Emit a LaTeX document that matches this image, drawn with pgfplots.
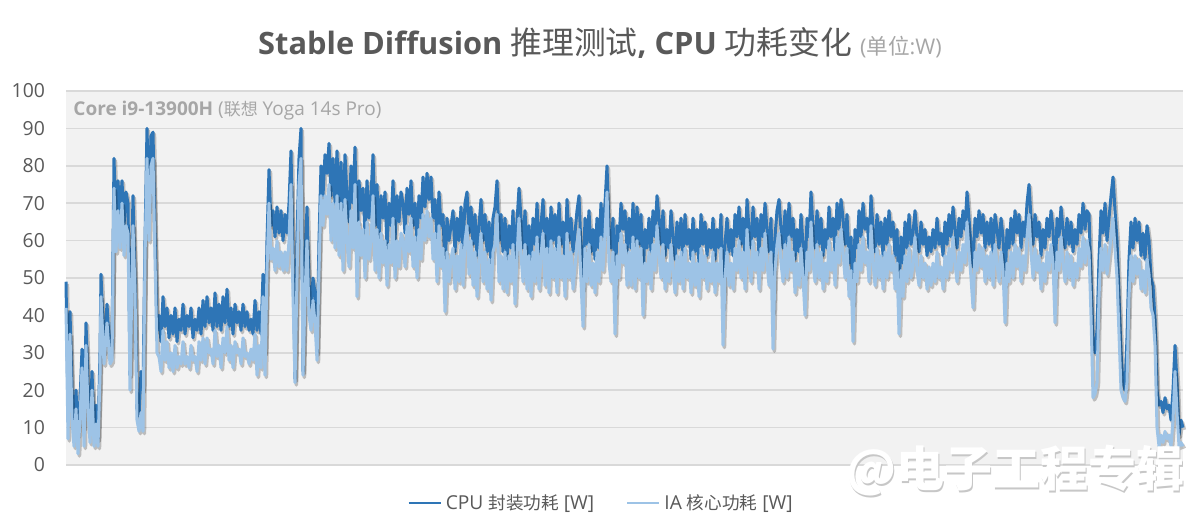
\documentclass[border=0pt]{standalone}
\usepackage{pgfplots}
\pgfplotsset{compat=1.18}
\usepackage{pgfplotstable}
\usepackage{fontspec}
\setmainfont{Open Sans}
\newfontfamily\cjk{Noto Sans CJK SC}
\definecolor{cpuc}{RGB}{46,117,182}
\definecolor{iac}{RGB}{157,195,230}
\definecolor{txt}{RGB}{89,89,89}
\definecolor{ltxt}{RGB}{166,166,166}
\definecolor{gridc}{RGB}{217,217,217}
\definecolor{bgc}{RGB}{242,242,242}
\pgfplotstableread{
x cpu ia
0 49 42
2 15 7
4 41 35
6 20 12
8 10 5
10 20 15
12 8 3
14 17 12
16 31 26
18 10 5
20 38 32
22 22 15
24 10 6
26 25 20
28 9 5
30 16 11
32 7 5
34 30 24
35 51 45
38 30 27
41 43 38
44 29 27
46 32 28
48 82 74
50 64 57
52 76 68
54 66 58
56 76 70
58 64 56
60 73 64
62 70 62
64 24 20
66 58 50
67 72 64
69 50 46
71 15 12
73 13 9
75 25 14
77 20 9
79 60 55
81 90 82
83 68 60
85 88 80
87 89 82
89 62 55
91 36 30
93 40 29
95 33 25
97 45 36
99 37 28
101 42 33
103 34 26
105 40 30
107 35 25
109 42 32
111 33 26
113 39 29
115 36 27
117 43 33
119 35 27
121 40 29
123 37 26
125 42 32
127 34 28
129 39 29
131 36 25
133 42 33
135 35 28
137 44 34
139 37 27
141 45 34
143 38 30
145 42 31
147 36 27
149 46 36
151 37 29
153 43 32
155 36 26
157 45 34
159 38 30
161 47 37
163 37 28
165 42 32
167 35 26
169 43 33
171 38 30
173 41 31
175 36 27
177 43 34
179 37 29
181 41 30
183 36 27
185 39 31
187 35 28
189 44 35
191 36 24
193 41 32
195 35 26
197 51 45
199 30 24
201 60 52
203 79 70
205 64 55
207 68 58
209 61 52
211 69 60
213 62 53
215 68 57
217 60 52
219 67 57
221 62 52
223 70 60
225 84 75
227 55 45
229 23 22
231 60 50
233 82 75
235 90 82
237 25 24
239 55 45
241 69 60
243 48 40
245 42 36
247 50 44
249 46 38
251 30 28
253 60 52
255 80 72
257 72 64
259 83 72
261 78 67
263 86 75
265 72 60
267 82 70
269 70 58
271 84 72
273 68 56
275 81 70
277 64 52
279 83 71
281 72 60
283 65 53
285 80 68
287 70 58
289 85 75
291 55 45
293 76 65
295 68 56
297 74 63
299 62 50
301 76 65
303 66 55
305 72 60
307 83 72
309 64 52
311 75 63
313 60 50
315 72 62
317 66 54
319 73 60
321 58 48
323 70 59
325 64 54
327 76 66
329 60 50
331 72 60
333 65 53
335 73 62
337 70 60
339 62 53
341 74 64
343 67 57
345 76 66
347 64 53
349 70 61
351 60 50
353 72 63
355 66 55
357 77 67
359 69 60
361 78 68
363 71 61
365 77 66
367 66 55
369 71 62
371 60 49
373 73 64
375 64 53
377 67 58
379 52 41
381 66 57
383 60 49
385 64 55
387 68 58
389 57 47
391 66 56
393 60 49
395 69 59
397 58 48
399 70 60
401 73 64
403 62 51
405 69 60
407 59 48
409 67 57
411 56 45
413 64 55
415 71 62
417 60 49
419 67 57
421 57 47
423 65 55
425 54 44
427 66 57
429 69 59
431 76 67
433 60 49
435 67 56
437 57 47
439 66 57
441 55 46
443 64 56
445 58 49
447 68 59
449 53 43
451 65 56
453 74 66
455 66 56
457 58 49
459 68 59
461 56 47
463 64 56
465 54 45
467 66 57
469 59 49
471 70 61
473 57 47
475 64 56
477 71 62
479 58 48
481 66 58
483 55 46
485 69 60
487 60 50
489 67 58
491 56 46
493 70 61
495 59 50
497 65 56
499 55 45
501 71 62
503 60 50
505 66 57
507 57 47
509 62 53
511 68 59
513 72 63
515 58 49
517 47 37
519 66 58
521 59 49
523 68 59
525 57 48
527 63 54
529 55 46
531 66 57
533 58 49
535 70 61
537 61 52
539 70 62
541 80 73
543 63 54
545 58 49
547 66 57
549 45 35
551 64 56
553 60 50
555 70 62
557 63 54
559 68 59
561 57 48
563 66 57
565 58 48
567 70 61
569 56 47
571 69 60
573 59 50
575 67 58
577 49 40
579 63 54
581 58 49
583 66 57
585 57 47
587 68 59
589 61 52
591 72 64
593 66 56
595 59 50
597 68 59
599 56 47
601 63 54
603 58 49
605 68 59
607 61 52
609 55 46
611 65 56
613 58 49
615 66 57
617 56 47
619 67 58
621 59 50
623 63 54
625 55 46
627 66 57
629 57 48
631 63 54
633 54 45
635 67 58
637 59 50
639 65 56
641 56 47
643 63 54
645 58 49
647 66 57
649 55 46
651 63 54
653 58 49
655 67 58
657 42 32
659 59 50
661 66 57
663 57 48
665 63 54
667 56 47
669 67 58
671 61 52
673 69 60
675 59 50
677 66 57
679 56 47
681 71 63
683 63 54
685 58 49
687 69 60
689 61 52
691 66 57
693 56 47
695 67 58
697 61 52
699 70 62
701 63 54
703 57 48
705 66 57
707 41 31
709 61 52
711 68 59
713 71 62
715 63 54
717 58 49
719 68 59
721 59 50
723 70 61
725 61 52
727 66 57
729 55 46
731 63 54
733 57 48
735 67 58
737 59 50
739 50 40
741 66 57
743 61 52
745 73 65
747 63 54
749 58 49
751 68 59
753 59 50
755 66 57
757 56 47
759 63 54
761 58 49
763 69 60
765 61 52
767 66 57
769 57 48
771 70 61
773 63 54
775 71 63
777 66 57
779 59 50
781 67 58
783 54 45
785 61 52
787 43 33
789 63 54
791 58 49
793 68 59
795 61 52
797 70 61
799 63 54
801 66 57
803 58 49
805 72 64
807 63 54
809 57 48
811 67 58
813 59 50
815 65 56
817 56 47
819 66 57
821 59 50
823 68 59
825 61 52
827 65 56
829 56 47
831 63 54
833 45 35
835 61 52
837 54 45
839 65 56
841 58 49
843 67 58
845 59 50
847 62 53
849 68 61
851 61 52
853 57 48
855 65 56
857 59 50
859 63 54
861 56 47
863 61 53
865 57 48
867 63 54
869 58 49
871 66 57
873 59 50
875 62 53
877 56 47
879 65 56
881 59 50
883 67 58
885 61 52
887 69 61
889 63 54
891 58 49
893 66 57
895 61 52
897 68 59
899 63 54
901 73 65
903 66 57
905 59 50
907 53 42
909 66 57
911 61 52
913 68 59
915 62 53
917 67 58
919 58 49
921 65 56
923 59 50
925 66 57
927 57 48
929 67 59
931 63 54
933 58 49
935 66 57
937 61 52
939 48 38
941 63 54
943 58 49
945 66 57
947 59 50
949 68 59
951 62 53
953 67 58
955 58 49
957 65 56
959 61 52
961 70 61
963 75 67
965 66 57
967 59 50
969 67 58
971 61 52
973 65 56
975 56 47
977 63 54
979 58 49
981 66 57
983 61 52
985 68 59
987 63 54
989 48 38
991 66 57
993 61 52
995 69 61
997 63 54
999 58 49
1001 66 57
1003 59 50
1005 65 56
1007 57 48
1009 63 54
1011 59 50
1013 67 58
1015 62 53
1017 70 61
1019 63 54
1021 68 60
1023 67 57
1025 50 40
1027 34 18
1029 30 19
1031 36 22
1033 55 45
1035 68 58
1037 62 52
1039 70 59
1041 60 51
1043 66 56
1045 72 61
1047 77 66
1049 68 58
1051 60 50
1053 45 35
1055 30 20
1057 22 18
1059 20 17
1061 34 22
1063 55 45
1065 65 56
1067 58 49
1069 66 56
1071 60 51
1073 65 55
1075 56 47
1077 62 52
1079 55 46
1081 64 55
1083 60 51
1085 50 42
1087 48 40
1089 39 32
1091 20 10
1093 16 5
1095 17 8
1097 14 6
1099 18 9
1101 15 7
1103 16 8
1105 12 5
1107 20 12
1109 32 25
1111 22 14
1113 8 5
1115 12 6
1117 10 5
}\data
\begin{document}
\begin{tikzpicture}
\path[use as bounding box,fill=white] (0,0) rectangle (600pt,265.5pt);
\begin{axis}[
  at={(33pt,33pt)}, anchor=south west,
  scale only axis, width=558.5pt, height=187pt,
  xmin=0, xmax=1117, ymin=0, ymax=100,
  ytick={0,10,...,100}, xtick=\empty,
  ymajorgrids, grid style={gridc, line width=0.8pt},
  axis line style={draw=none}, major tick length=0pt,
  axis background/.style={fill=bgc},
  /pgf/number format/assume math mode=true,
  yticklabel style={font=\fontsize{9.7}{11}\selectfont, text=txt, xshift=-7pt},
  legend style={at={(0.48,-0.102)}, anchor=center, draw=none, fill=none,
    font=\fontsize{9.6}{11}\selectfont, text=txt, legend columns=2,
    /tikz/every even column/.append style={column sep=14pt}},
  legend image code/.code={\draw[#1,line width=1.1pt] (0pt,0pt) -- (16pt,0pt);},
  clip=false,
]
\addplot[forget plot, black, opacity=0.22, line width=1.8pt, line join=round, xshift=0.7pt, yshift=-1.1pt] table[x=x,y=cpu]{\data};
\addplot[cpuc, line width=1.5pt, line join=round] table[x=x,y=cpu]{\data};
\addplot[forget plot, black, opacity=0.22, line width=1.8pt, line join=round, xshift=0.7pt, yshift=-1.1pt] table[x=x,y=ia]{\data};
\addplot[iac, line width=1.5pt, line join=round] table[x=x,y=ia]{\data};
\legend{CPU {\cjk\fontsize{8.8}{10}\selectfont 封装功耗} [W], IA {\cjk\fontsize{8.8}{10}\selectfont 核心功耗} [W]}
\node[anchor=west, text=ltxt, inner sep=0pt] at (rel axis cs:0.0063,0.947)
  {\fontsize{9.5}{11}\selectfont\textbf{Core i9-13900H} ({\cjk\fontsize{8.5}{10}\selectfont 联想} Yoga 14s Pro)};
\end{axis}
\node[text=txt, inner sep=0pt] at (300pt,244pt)
  {\fontsize{15.4}{18}\selectfont\textbf{Stable Diffusion} {\cjk\fontsize{15.9}{18}\selectfont 推理测试}\textbf{, CPU} {\cjk\fontsize{15.9}{18}\selectfont 功耗变化} {\color{ltxt}\fontsize{10.8}{12}\selectfont ({\cjk\fontsize{10.8}{12}\selectfont 单位}:W)}};
\node[text=black!22, inner sep=0pt, anchor=east] at (593pt,29.2pt)
  {\cjk\bfseries\fontsize{24}{27}\selectfont @电子工程专辑};
\node[text=white, inner sep=0pt, anchor=east] at (592.3pt,30pt)
  {\cjk\bfseries\fontsize{24}{27}\selectfont @电子工程专辑};
\end{tikzpicture}
\end{document}
